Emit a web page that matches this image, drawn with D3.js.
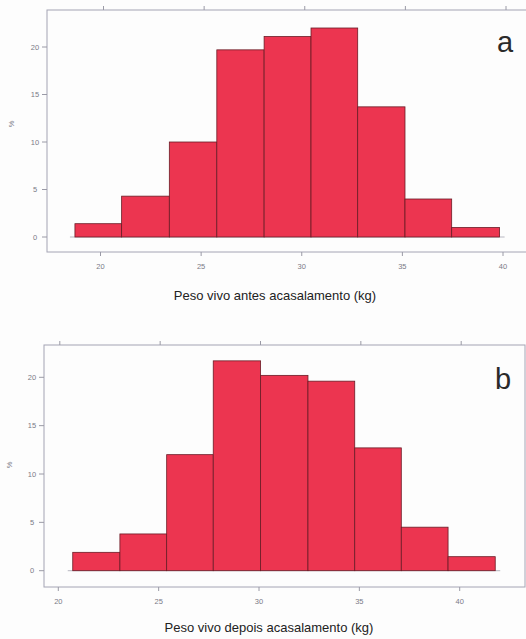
<!DOCTYPE html>
<html>
<head>
<meta charset="utf-8">
<script src="https://cdn.jsdelivr.net/npm/d3@7"></script>
<style>
	body { margin: 0; background: #fdfdfd; }
	svg { display: block; }
	.tick-label { font-family: "Liberation Sans", Arial, sans-serif; font-size: 7.5px; fill: #7a7a86; }
	.axis-title { font-family: "Liberation Sans", Arial, sans-serif; font-size: 13px; fill: #222; }
	.panel-letter { font-family: "Liberation Sans", Arial, sans-serif; font-size: 29px; fill: #2a2a2a; }
</style>
</head>
<body>
<svg></svg>
<script>
// histogram a: break points (kg) and percentages
var breaksA = [18.73, 21.05, 23.42, 25.78, 28.13, 30.46, 32.78, 35.13, 37.45, 39.83]
var percentA = [1.4, 4.3, 10.0, 19.7, 21.1, 22.0, 13.7, 4.0, 1.0]
// histogram b
var breaksB = [20.72, 23.07, 25.40, 27.72, 30.08, 32.44, 34.77, 37.09, 39.42, 41.77]
var percentB = [1.9, 3.8, 12.0, 21.7, 20.2, 19.6, 12.7, 4.5, 1.45]

var xTicks = [20, 25, 30, 35, 40]
var yTicks = [0, 5, 10, 15, 20]
var titles = ["Peso vivo antes acasalamento (kg)", "Peso vivo depois acasalamento (kg)"]
var letters = ["a", "b"]

var width = 526
var height = 639

var svg = d3.select('svg')
	.attr('width', width)
	.attr('height', height)

var panels = [{
	breaks: breaksA,
	values: percentA,
	box: { left: 47, right: 532, top: 10, bottom: 252 },
	x: d3.scaleLinear().domain([20, 40]).range([100.5, 503]),
	y: d3.scaleLinear().domain([0, 20]).range([237, 47]),
	topShift: 3,
	ylab: { x: 14, y: 124 },
	title: { x: 275, y: 300 },
	letter: { x: 505, y: 52 }
}, {
	breaks: breaksB,
	values: percentB,
	box: { left: 44, right: 525, top: 345, bottom: 587 },
	x: d3.scaleLinear().domain([20, 40]).range([58.3, 459.7]),
	y: d3.scaleLinear().domain([0, 20]).range([570.7, 377.3]),
	topShift: 1.5,
	ylab: { x: 12, y: 465 },
	title: { x: 269, y: 632 },
	letter: { x: 503, y: 389 }
}]

panels.forEach(function(p, i) {
	var g = svg.append('g')
	var bins = p.values.map(function(v, j) {
		return { x0: p.breaks[j], x1: p.breaks[j + 1], value: v }
	})

	// little baseline stubs either side
	g.append('line')
		.attr('x1', p.x(p.breaks[0]) - 5)
		.attr('x2', p.x(p.breaks[p.breaks.length - 1]) + 5)
		.attr('y1', p.y(0))
		.attr('y2', p.y(0))
		.attr('stroke', '#9a9aa6')
		.attr('stroke-width', 0.7)

	// bars
	g.append('g')
		.selectAll('rect')
		.data(bins)
		.enter()
		.append('rect')
		.attr('x', function(d) { return p.x(d.x0) })
		.attr('width', function(d) { return p.x(d.x1) - p.x(d.x0) })
		.attr('y', function(d) { return p.y(d.value) })
		.attr('height', function(d) { return p.y(0) - p.y(d.value) })
		.attr('fill', '#ec3550')
		.attr('stroke', '#6a1c26')
		.attr('stroke-width', 0.8)

	// panel frame
	g.append('rect')
		.attr('x', p.box.left)
		.attr('y', p.box.top)
		.attr('width', p.box.right - p.box.left)
		.attr('height', p.box.bottom - p.box.top)
		.attr('fill', 'none')
		.attr('stroke', '#a4a4b4')
		.attr('stroke-width', 1)

	// x ticks bottom + top
	var xt = g.append('g')
	xTicks.forEach(function(t) {
		var px = p.x(t)
		xt.append('line')
			.attr('x1', px).attr('x2', px)
			.attr('y1', p.box.bottom).attr('y2', p.box.bottom + 4)
			.attr('stroke', '#9a9aa6')
		xt.append('line')
			.attr('x1', px + p.topShift).attr('x2', px + p.topShift)
			.attr('y1', p.box.top).attr('y2', p.box.top - 4)
			.attr('stroke', '#9a9aa6')
		xt.append('text')
			.attr('class', 'tick-label')
			.attr('x', px)
			.attr('y', p.box.bottom + 17)
			.attr('text-anchor', 'middle')
			.text(t)
	})

	// y ticks
	yTicks.forEach(function(t) {
		var py = p.y(t)
		g.append('line')
			.attr('x1', p.box.left - 5).attr('x2', p.box.left)
			.attr('y1', py).attr('y2', py)
			.attr('stroke', '#9a9aa6')
		g.append('text')
			.attr('class', 'tick-label')
			.attr('x', p.box.left - 12)
			.attr('y', py + 2.5)
			.attr('text-anchor', 'middle')
			.text(t)
	})

	g.append('text')
		.attr('class', 'tick-label')
		.attr('transform', 'translate(' + p.ylab.x + ',' + p.ylab.y + ') rotate(-90)')
		.attr('text-anchor', 'middle')
		.text('%')

	g.append('text')
		.attr('class', 'axis-title')
		.attr('x', p.title.x)
		.attr('y', p.title.y)
		.attr('text-anchor', 'middle')
		.text(titles[i])

	g.append('text')
		.attr('class', 'panel-letter')
		.attr('x', p.letter.x)
		.attr('y', p.letter.y)
		.attr('text-anchor', 'middle')
		.text(letters[i])
})
</script>
</body>
</html>
